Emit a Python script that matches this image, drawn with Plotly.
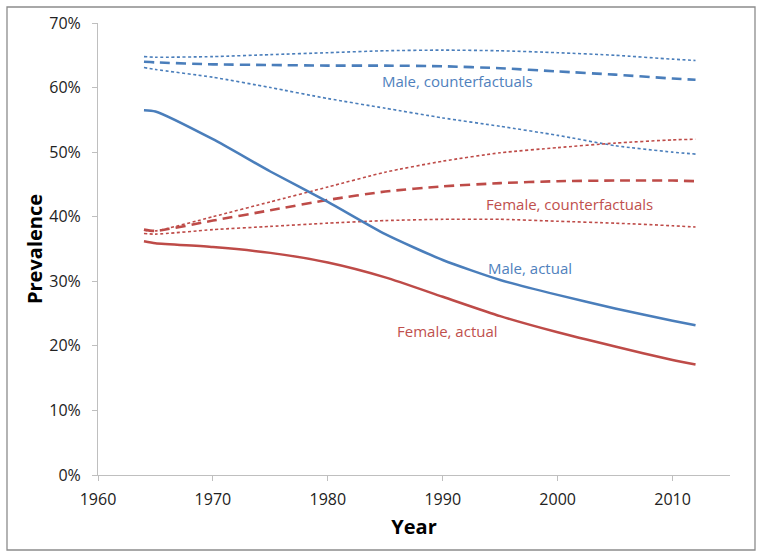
import plotly.graph_objects as go

years = [1964, 1965, 1970, 1975, 1980, 1985, 1990, 1995, 2000, 2005, 2010, 2012]

male_actual = [56.5, 56.3, 52.0, 47.0, 42.3, 37.3, 33.3, 30.2, 27.9, 25.8, 23.9, 23.2]
female_actual = [36.2, 35.9, 35.3, 34.4, 32.9, 30.6, 27.6, 24.6, 22.1, 19.9, 17.8, 17.1]

male_cf_high = [64.8, 64.7, 64.8, 65.1, 65.4, 65.7, 65.8, 65.7, 65.4, 65.0, 64.4, 64.2]
male_cf_mid = [64.0, 63.9, 63.6, 63.5, 63.4, 63.4, 63.3, 63.0, 62.5, 62.0, 61.4, 61.2]
male_cf_low = [63.1, 62.8, 61.6, 60.0, 58.3, 56.8, 55.3, 54.0, 52.6, 51.0, 50.0, 49.7]

female_cf_high = [37.9, 37.8, 40.0, 42.3, 44.6, 46.9, 48.6, 49.9, 50.7, 51.4, 51.9, 52.0]
female_cf_mid = [38.0, 37.8, 39.4, 41.0, 42.6, 43.9, 44.7, 45.2, 45.5, 45.6, 45.6, 45.5]
female_cf_low = [37.4, 37.3, 38.0, 38.5, 39.0, 39.4, 39.6, 39.6, 39.3, 39.0, 38.6, 38.4]

labels = ["Male, counterfactuals", "Female, counterfactuals", "Male, actual", "Female, actual"]
label_x = [1991.3, 2001.0, 1997.6, 1990.4]
label_y = [61.0, 41.9, 32.1, 22.3]

BLUE = "#4A7EBB"
RED = "#BE4B48"
BLUE_T = "#4F81BD"
RED_T = "#C0504D"

fig = go.Figure()

def add(y, color, width, dash):
    fig.add_trace(go.Scatter(x=years, y=[v / 100 for v in y], mode="lines",
                             line=dict(color=color, width=width, dash=dash, shape="spline", smoothing=0.6),
                             showlegend=False, hoverinfo="skip"))

add(male_cf_high, BLUE, 1.6, "3px,2.5px")
add(male_cf_mid, BLUE, 2.6, "10px,6px")
add(male_cf_low, BLUE, 1.6, "3px,2.5px")
add(female_cf_high, RED, 1.6, "3px,2.5px")
add(female_cf_mid, RED, 2.6, "10px,6px")
add(female_cf_low, RED, 1.6, "3px,2.5px")
add(male_actual, BLUE, 2.5, "solid")
add(female_actual, RED, 2.5, "solid")

colors = [BLUE_T, RED_T, BLUE_T, RED_T]
for t, x, y, c in zip(labels, label_x, label_y, colors):
    fig.add_annotation(x=x, y=y / 100, text=t, showarrow=False,
                       font=dict(color=c, size=15, family="Open Sans"))

# plot area: x 98..730, y 23..475 (px)
fig.update_layout(
    width=764, height=559,
    margin=dict(l=98, r=34, t=23, b=84),
    paper_bgcolor="white", plot_bgcolor="white",
    font=dict(family="Open Sans", size=15, color="#222"),
    shapes=[dict(type="rect", xref="paper", yref="paper",
                 x0=(7 - 98) / 632, x1=(755 - 98) / 632,
                 y0=(475 - 550) / 452, y1=(475 - 7) / 452,
                 line=dict(color="#8C8C8C", width=1.3))],
)
fig.update_xaxes(range=[1960, 2015], tickvals=[1960, 1970, 1980, 1990, 2000, 2010],
                 showline=True, linecolor="#BFBFBF", linewidth=1,
                 ticks="outside", tickcolor="#BFBFBF", ticklen=5,
                 showgrid=False, zeroline=False,
                 tickfont=dict(size=16), ticklabelstandoff=5,
                 title=dict(text="<b>Year</b>", font=dict(size=20, color="#000"), standoff=10))
fig.update_yaxes(range=[0, 0.70], tickvals=[i / 10 for i in range(8)], tickformat=".0%",
                 showline=True, linecolor="#BFBFBF", linewidth=1,
                 ticks="outside", tickcolor="#BFBFBF", ticklen=5,
                 showgrid=False, zeroline=False,
                 tickfont=dict(size=16), ticklabelstandoff=8,
                 title=dict(text="<b>Prevalence</b>", font=dict(size=20, color="#000"), standoff=1))

fig.write_html("out.html", config={"displayModeBar": False},
               post_script="document.body.style.margin='0px';")
